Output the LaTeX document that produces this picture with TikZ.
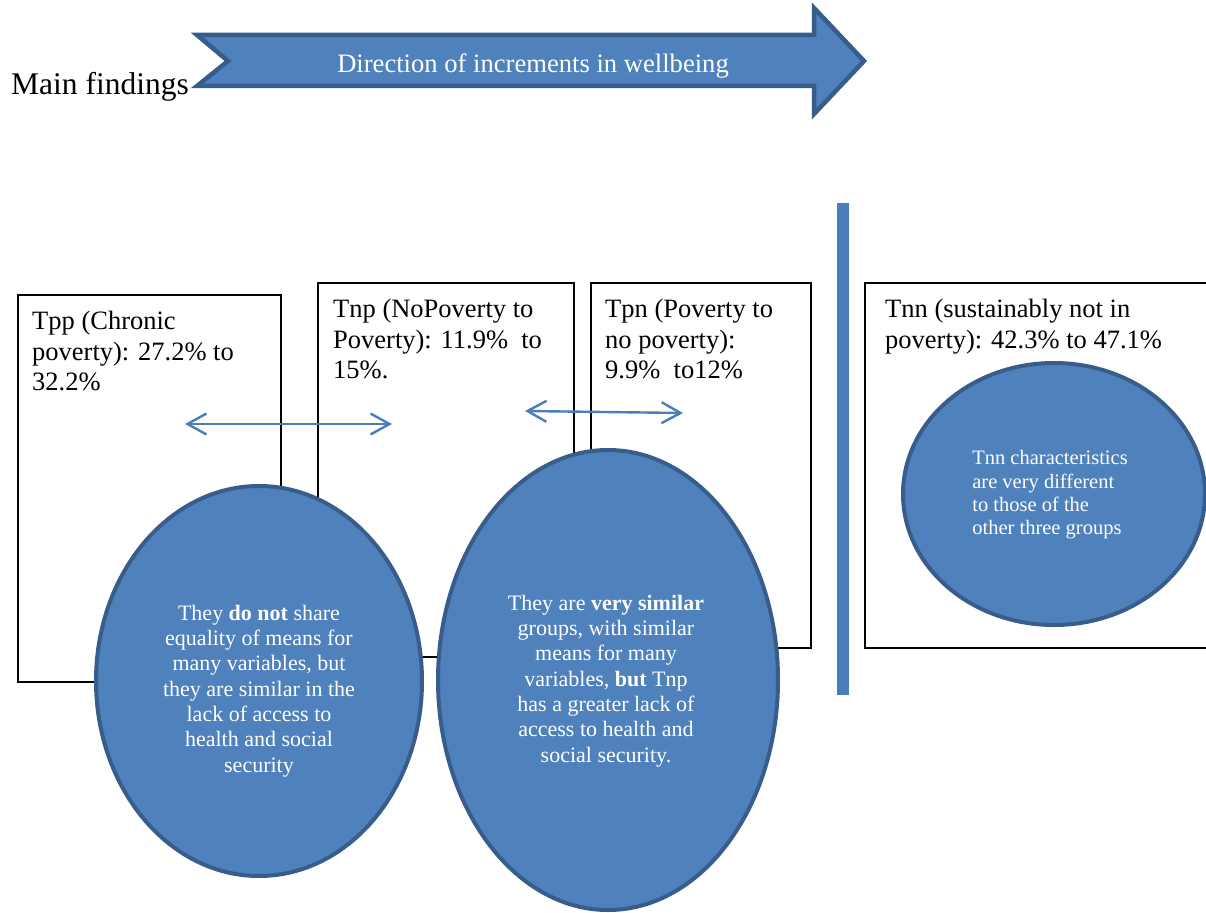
\documentclass[tikz,border=0pt]{standalone}
\usepackage{fontspec}
\setmainfont{Liberation Serif}
\usetikzlibrary{shapes.geometric,arrows.meta}
\definecolor{blfill}{HTML}{4F81BD}
\definecolor{blline}{HTML}{385D8A}
\definecolor{blarrow}{HTML}{4A7EBB}
\tikzset{
  groupbox/.style={draw=black,line width=1.1pt},
  boxtext/.style={anchor=north west,inner sep=0pt,align=left,font=\fontsize{26.5}{30.5}\selectfont},
  bubble/.style={ellipse,draw=blline,fill=blfill,line width=4pt,inner sep=0pt},
  bubbletext/.style={inner sep=0pt,text=white,font=\fontsize{22}{25.3}\selectfont},
  dbl/.style={draw=blarrow,line width=2.4pt,{Straight Barb[length=19pt,width=21pt,line width=2.4pt]}-{Straight Barb[length=19pt,width=21pt,line width=2.4pt]}},
}
\begin{document}
\begin{tikzpicture}[x=1pt,y=-1pt]
\useasboundingbox (0,0) rectangle (1206,912);
\clip (0,0) rectangle (1206,912);

% main arrow
\coordinate (t1) at (197,35);
\coordinate (h1) at (814,35);
\coordinate (h2) at (814,8);
\coordinate (tip) at (864,61);
\coordinate (h3) at (814,114);
\coordinate (h4) at (814,86);
\coordinate (t2) at (197,86);
\coordinate (notch) at (228,61);
\draw[blline,fill=blfill,line width=4.5pt,line join=miter]
  (t1) -- (h1) -- (h2) -- (tip) -- (h3) -- (h4) -- (t2) -- (notch) -- cycle;
\node[inner sep=0pt,text=white,font=\fontsize{26.6}{30}\selectfont] (dir) at (533,66) {Direction of increments in wellbeing};
\node[inner sep=0pt,anchor=west,font=\fontsize{31.5}{36}\selectfont] (main) at (11,87) {Main findings};

% boxes
\draw[groupbox] (18,295) rectangle (281,682);
\node[boxtext] (tpp) at (32,311) {Tpp (Chronic\\poverty): 27.2\% to\\32.2\%};
\draw[groupbox] (318,283) rectangle (574,657);
\node[boxtext] (tnp) at (333,299) {Tnp (NoPoverty to\\Poverty): 11.9\%~ to\\15\%.};
\draw[groupbox] (591,283) rectangle (811,648);
\node[boxtext] (tpn) at (605,299) {Tpn (Poverty to\\no poverty):\\9.9\%~ to12\%};
\draw[groupbox] (865,283) rectangle (1212,648);
\node[boxtext] (tnn) at (885,299) {Tnn (sustainably not in\\poverty): 42.3\% to 47.1\%};

% divider bar
\coordinate (bart) at (843,203);
\coordinate (barb) at (843,695);
\draw[blarrow,line width=12pt] (bart) -- (barb);

% double arrows
\coordinate (a1l) at (185,424);
\coordinate (a1r) at (392,424);
\draw[dbl] (a1l) -- (a1r);
\coordinate (a2l) at (525,411);
\coordinate (a2r) at (683,413);
\draw[dbl] (a2l) -- (a2r);

% ellipses
\node[bubble,minimum width=326pt,minimum height=390pt] (e1) at (259,681) {};
\node[bubbletext,align=center] (e1t) at (259,691) {They \textbf{do not} share\\equality of means for\\many variables, but\\they are similar in the\\lack of access to\\health and social\\security};
\node[bubble,minimum width=340pt,minimum height=460pt] (e2) at (608,680) {};
\node[bubbletext,align=center] (e2t) at (606,681) {They are \textbf{very similar}\\groups, with similar\\means for many\\variables, \textbf{but} Tnp\\has a greater lack of\\access to health and\\social security.};
\node[bubble,minimum width=302pt,minimum height=262pt] (e3) at (1054,494) {};
\node[bubbletext,align=left,font=\fontsize{20.5}{23.3}\selectfont] (e3t) at (1050,495) {Tnn characteristics\\are very different\\to those of the\\other three groups};
\end{tikzpicture}
\end{document}
